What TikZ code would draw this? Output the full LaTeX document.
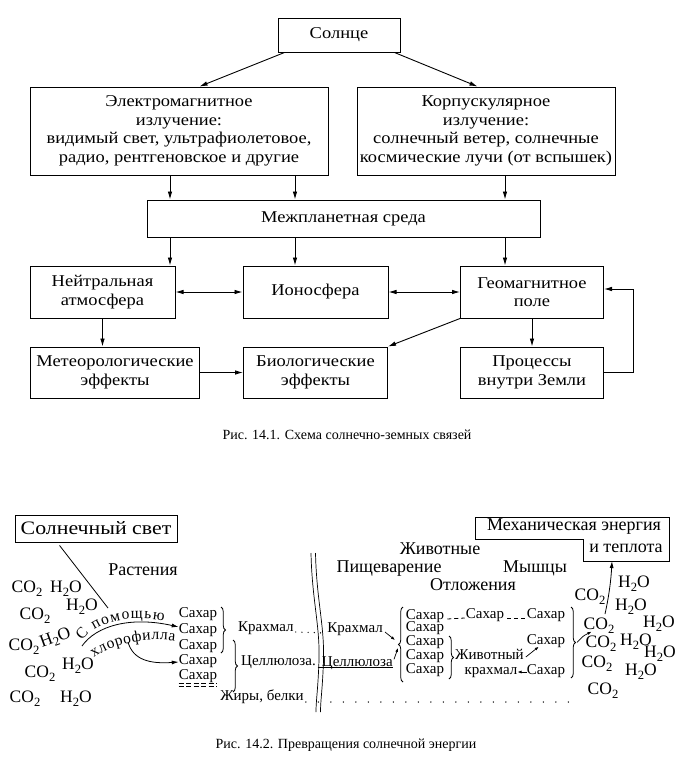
\documentclass[tikz,border=0pt]{standalone}
\usepackage{fontspec}
\setmainfont{Liberation Serif}
\newfontfamily\widefont[FakeStretch=1.12]{Liberation Serif}
\newfontfamily\widerfont[FakeStretch=1.15]{Liberation Serif}
\usetikzlibrary{arrows.meta,decorations.text,decorations.pathreplacing,calc}
\newcommand\topfont{\widefont\fontsize{16.5}{18.5}\selectfont}
\newcommand\sunfont{\widerfont\fontsize{19}{21}\selectfont}
\newcommand\capfont{\fontsize{14}{16}\selectfont}
\newcommand\labfont{\fontsize{18}{20}\selectfont}
\newcommand\sugfont{\fontsize{15}{16}\selectfont}
\newcommand\chemfont{\fontsize{17.5}{20}\selectfont}
\newcommand\curvefont{\fontsize{15.5}{17}\selectfont}
\newcommand\lowtwo{\raisebox{-0.45ex}{\scalebox{0.72}{2}}}
\newcommand\COt{CO\lowtwo}
\newcommand\HtO{H\lowtwo O}
\begin{document}
\begin{tikzpicture}[x=1pt,y=-1pt,
 box/.style={draw,line width=1pt,inner sep=0pt,align=center,font=\topfont},
 arr/.style={line width=0.9pt,-{Latex[length=8pt,width=4.6pt]}},
 darr/.style={line width=0.9pt,{Latex[length=8pt,width=4.6pt]}-{Latex[length=8pt,width=4.6pt]}},
 sarr/.style={line width=0.8pt,-{Latex[length=7pt,width=4pt]}},
 tinyarr/.style={line width=0.7pt,-{Latex[length=4pt,width=3pt]}},
 txt/.style={inner sep=0pt,text height=0.7em,text depth=0.2em},
 lab/.style={txt,font=\labfont},
 sug/.style={txt,font=\sugfont},
 chem/.style={txt,font=\chemfont},
 captxt/.style={txt,font=\capfont},
 brc/.style={decorate,decoration={brace,amplitude=4.5pt},line width=0.8pt},
 dots/.style={line width=1.5pt,line cap=round,dash pattern=on 0pt off 12.5pt},
]
\useasboundingbox (0,0) rectangle (695,771);
\fill[white] (0,0) rectangle (695,771);
% ---------- Fig 14.1 ----------
\node[box,minimum width=122pt,minimum height=34pt] (sun) at (339,35) {Солнце};
\node[box,minimum width=298pt,minimum height=88pt] (em) at (179,131) {Электромагнитное\\излучение:\\видимый свет, ультрафиолетовое,\\радио, рентгеновское и другие};
\node[box,minimum width=258pt,minimum height=88pt] (corp) at (486,131) {Корпускулярное\\излучение:\\солнечный ветер, солнечные\\космические лучи (от вспышек)};
\node[box,minimum width=393pt,minimum height=37pt] (mps) at (343.5,218.5) {Межпланетная среда};
\node[box,minimum width=145pt,minimum height=52pt] (neut) at (102.5,292) {Нейтральная\\атмосфера};
\node[box,minimum width=145pt,minimum height=52pt] (iono) at (315.5,292) {Ионосфера};
\node[box,minimum width=143pt,minimum height=52pt] (geo) at (532,292) {Геомагнитное\\поле};
\node[box,minimum width=169pt,minimum height=51pt] (meteo) at (115,372.5) {Метеорологические\\эффекты};
\node[box,minimum width=144pt,minimum height=51pt] (bio) at (315.5,372.5) {Биологические\\эффекты};
\node[box,minimum width=143pt,minimum height=51pt] (proc) at (532,372.5) {Процессы\\внутри Земли};
\coordinate (xa) at (170,0);
\coordinate (xb) at (295,0);
\coordinate (xc) at (505,0);
\draw[arr] ([xshift=7pt]sun.south west) -- ([xshift=170pt]em.north west);
\draw[arr] ([xshift=-6pt]sun.south east) -- ([xshift=121pt]corp.north west);
\draw[arr] (xa |- em.south) -- (xa |- mps.north);
\draw[arr] (xb |- em.south) -- (xb |- mps.north);
\draw[arr] (xc |- corp.south) -- (xc |- mps.north);
\draw[arr] (xa |- mps.south) -- (xa |- neut.north);
\draw[arr] (xb |- mps.south) -- (xb |- iono.north);
\draw[arr] (xc |- mps.south) -- (xc |- geo.north);
\draw[darr] (neut.east) -- (iono.west);
\draw[darr] (iono.east) -- (geo.west);
\draw[arr] (neut.south) -- (neut.south |- meteo.north);
\draw[arr] (meteo.east) -- (bio.west);
\draw[arr] (geo.south west) -- (bio.north east);
\draw[arr] (geo.south) -- (proc.north);
\draw[arr] (proc.east) -- ++(29,0) |- ([yshift=3pt]geo.east);
\node[captxt] (cap1) at (347,437) {Рис. 14.1. Схема солнечно-земных связей};
% ---------- Fig 14.2 ----------
\node[draw,line width=0.9pt,minimum width=162pt,minimum height=27pt,inner sep=0pt,font=\sunfont] (light) at (96,528.5) {Солнечный свет};
\coordinate (lend) at (108,608);
\draw[line width=0.8pt] ([xshift=45pt,yshift=-3pt]light.south west) -- (lend);
\node[lab] (plants) at (143,573) {Растения};
% left CO2 / H2O
\node[chem] (a1) at (27,590) {\COt};
\node[chem] (a2) at (66,590) {\HtO};
\node[chem] (a3) at (82,608) {\HtO};
\node[chem] (a4) at (35,617) {\COt};
\node[chem] (a5) at (24,648) {\COt};
\node[chem,rotate=20] (a6) at (56,640) {\HtO};
\node[chem] (a7) at (78,667) {\HtO};
\node[chem] (a8) at (40,675) {\COt};
\node[chem] (a9) at (25,700) {\COt};
\node[chem] (a10) at (76,700) {\HtO};
% left sugar stack
\node[sug] (s1) at (198,615) {Сахар};
\node[sug] (s2) at (198,631) {Сахар};
\node[sug] (s3) at (198,647) {Сахар};
\node[sug] (s4) at (198,662) {Сахар};
\node[sug] (s5) at (198,677) {Сахар};
\draw[line width=0.7pt,dash pattern=on 5pt off 2.5pt] ([yshift=-1.5pt]s5.south west) -- ([yshift=-1.5pt]s5.south east);
\draw[line width=0.7pt,dash pattern=on 5pt off 2.5pt] ([yshift=-5pt]s5.south west) -- ([yshift=-5pt]s5.south east);
% chlorophyll arrows and curved text
\coordinate (cs) at (82,646);
\coordinate (cl) at (128,642);
\draw[sarr] (cs) .. controls (96,626) and (130,616) .. ([yshift=4pt]s2.west);
\draw[sarr] (cl) .. controls (133,660) and (150,664) .. (s4.west);
\path[decorate,decoration={text along path,text={|\curvefont|С помощью},text align={fit to path}}] (82,641) .. controls (96,622) and (125,615) .. (164,621);
\path[decorate,decoration={text along path,text={|\curvefont|хлорофилла},text align={fit to path}}] (94,658) .. controls (112,644) and (145,637) .. (175,641);
% braces left
\draw[brc] (221,607) -- (221,653);
\draw[brc] (233,640) -- (233,692);
\node[sug,anchor=west] (k1) at (238,629) {Крахмал};
\node[sug,anchor=west] (c1) at (241,663) {Целлюлоза.};
\node[sug] (fat) at (262,698) {Жиры, белки};
% double wavy line
\draw[line width=0.7pt] (311,553) .. controls (312,600) and (320,625) .. (319,660) .. controls (318,690) and (316,700) .. (316,712);
\draw[line width=0.7pt] (315.5,553) .. controls (316.5,600) and (324.5,625) .. (323.5,660) .. controls (322.5,690) and (320.5,700) .. (320.5,712);
% animals
\node[lab] (anim0) at (440,552) {Животные};
\node[lab] (dig) at (389,570) {Пищеварение};
\node[lab] (musc) at (535,570) {Мышцы};
\node[lab] (depo) at (473,588) {Отложения};
\node[sug,anchor=east] (k2) at (383,630) {Крахмал};
\node[sug,anchor=east] (c2) at (393,664) {Целлюлоза};
\draw[line width=1.4pt,line cap=round,dash pattern=on 0pt off 6.2pt] ([xshift=2pt,yshift=-3pt]k1.east) -- ([xshift=-1pt,yshift=-3pt]k2.west);
\draw[line width=0.6pt] ([xshift=-4pt,yshift=1pt]c2.south west) -- ([yshift=1pt]c2.south east);
\draw[dots] ([xshift=2pt,yshift=-4pt]fat.east) -- ++(265,0);
\coordinate (bt1) at (395,640);
\coordinate (bt2) at (398,648);
\draw[tinyarr] ([xshift=2pt,yshift=-2pt]k2.east) -- (bt1);
\draw[tinyarr] ([xshift=1pt]c2.north east) -- (bt2);
\draw[brc] (403,682) -- (403,607);
\node[sug] (r1) at (425,617) {Сахар};
\node[sug] (r2) at (425,629) {Сахар};
\node[sug] (r3) at (425,643) {Сахар};
\node[sug] (r4) at (425,657) {Сахар};
\node[sug] (r5) at (425,671) {Сахар};
\node[sug] (rm) at (485,616) {Сахар};
\node[sug] (rr1) at (546,616) {Сахар};
\node[sug] (rr2) at (546,642) {Сахар};
\node[sug] (rr3) at (546,672) {Сахар};
\draw[line width=0.8pt,dash pattern=on 4pt off 3pt] ([xshift=3pt,yshift=-2pt]r1.east) -- ([xshift=-1pt,yshift=-2pt]rm.west);
\draw[line width=0.8pt,dash pattern=on 4pt off 3pt] ([xshift=3pt,yshift=-2pt]rm.east) -- ([xshift=-1pt,yshift=-2pt]rr1.west);
\draw[brc] (449,636) -- (449,679);
\node[sug,anchor=west] (anim) at (455,657) {Животный};
\node[sug] (krah) at (491,672) {крахмал};
\draw[tinyarr] (rr3.west) -- (krah.east);
\draw[tinyarr] ([xshift=2pt]anim.east) -- ([xshift=12pt]rr2.south west);
\draw[brc] (571,607) -- (571,678);
% right CO2 / H2O
\node[chem] (b1) at (634,585) {\HtO};
\node[chem] (b2) at (590,598) {\COt};
\node[chem] (b3) at (631,608) {\HtO};
\node[chem] (b4) at (599,627) {\COt};
\node[chem] (b5) at (659,625) {\HtO};
\node[chem] (b6) at (601,645) {\COt};
\node[chem] (b7) at (636,643) {\HtO};
\node[chem] (b8) at (660,655) {\HtO};
\node[chem] (b9) at (597,665) {\COt};
\node[chem] (b10) at (641,673) {\HtO};
\node[chem] (b11) at (603,692) {\COt};
\coordinate (bt3) at (577,642.5);
\draw[tinyarr] (bt3) .. controls (583,636) .. ([xshift=8pt]b4.south west);
% mechanical energy box
\draw[line width=1pt] (475,517) -- (669,517) -- (669,561) -- (583,561) -- (583,539) -- (475,539) -- cycle;
\node[lab] (mech1) at (574,528) {Механическая энергия};
\node[lab] (mech2) at (626,550) {и теплота};
\coordinate (upst) at (605,614);
\coordinate (mechb) at (612,561);
\draw[sarr] (upst) .. controls (609,596) and (611,580) .. (mechb);
\node[captxt] (cap2) at (346,746) {Рис. 14.2. Превращения солнечной энергии};
\end{tikzpicture}
\end{document}
